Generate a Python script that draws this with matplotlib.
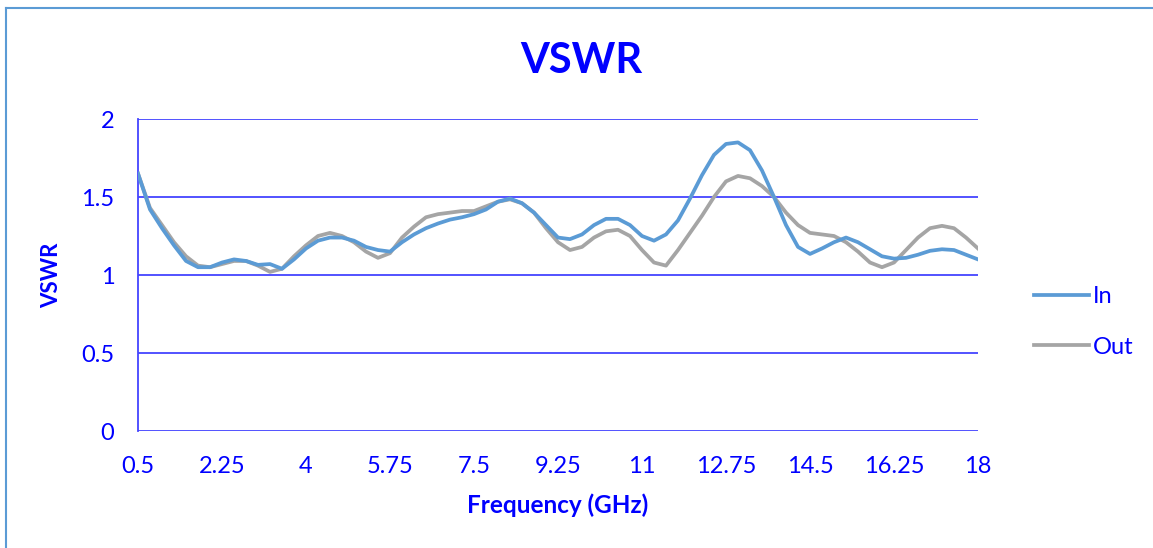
import matplotlib.pyplot as plt
from matplotlib.lines import Line2D

# frequency grid (GHz)
freq = [0.5, 0.75, 1.0, 1.25, 1.5, 1.75, 2.0, 2.25, 2.5, 2.75,
        3.0, 3.25, 3.5, 3.75, 4.0, 4.25, 4.5, 4.75, 5.0, 5.25,
        5.5, 5.75, 6.0, 6.25, 6.5, 6.75, 7.0, 7.25, 7.5, 7.75,
        8.0, 8.25, 8.5, 8.75, 9.0, 9.25, 9.5, 9.75, 10.0, 10.25,
        10.5, 10.75, 11.0, 11.25, 11.5, 11.75, 12.0, 12.25, 12.5, 12.75,
        13.0, 13.25, 13.5, 13.75, 14.0, 14.25, 14.5, 14.75, 15.0, 15.25,
        15.5, 15.75, 16.0, 16.25, 16.5, 16.75, 17.0, 17.25, 17.5, 17.75,
        18.0]

vswr_in = [1.65, 1.42, 1.30, 1.19, 1.09, 1.05, 1.05, 1.08, 1.10, 1.09,
           1.065, 1.07, 1.04, 1.10, 1.17, 1.22, 1.24, 1.24, 1.22, 1.18,
           1.16, 1.15, 1.21, 1.26, 1.30, 1.33, 1.355, 1.37, 1.39, 1.42,
           1.47, 1.49, 1.46, 1.40, 1.32, 1.24, 1.23, 1.26, 1.32, 1.36,
           1.36, 1.32, 1.25, 1.22, 1.26, 1.35, 1.49, 1.64, 1.77, 1.84,
           1.85, 1.80, 1.67, 1.50, 1.32, 1.18, 1.135, 1.17, 1.21, 1.24,
           1.21, 1.165, 1.12, 1.105, 1.11, 1.13, 1.155, 1.165, 1.16, 1.13,
           1.10]

vswr_out = [1.65, 1.43, 1.32, 1.21, 1.12, 1.06, 1.05, 1.07, 1.09, 1.09,
            1.06, 1.02, 1.04, 1.12, 1.19, 1.25, 1.27, 1.25, 1.21, 1.15,
            1.11, 1.14, 1.24, 1.31, 1.37, 1.39, 1.40, 1.41, 1.41, 1.44,
            1.47, 1.485, 1.46, 1.40, 1.30, 1.21, 1.16, 1.18, 1.24, 1.28,
            1.29, 1.25, 1.16, 1.08, 1.06, 1.16, 1.27, 1.38, 1.50, 1.60,
            1.635, 1.62, 1.57, 1.50, 1.40, 1.32, 1.27, 1.26, 1.25, 1.21,
            1.15, 1.08, 1.05, 1.08, 1.16, 1.24, 1.30, 1.315, 1.30, 1.24,
            1.17]

x_ticks = [0.5, 2.25, 4, 5.75, 7.5, 9.25, 11, 12.75, 14.5, 16.25, 18]
x_tick_labels = ['0.5', '2.25', '4', '5.75', '7.5', '9.25', '11', '12.75', '14.5', '16.25', '18']
y_ticks = [0, 0.5, 1, 1.5, 2]
y_tick_labels = ['0', '0.5', '1', '1.5', '2']

text_blue = '#0000ff'
grid_blue = '#4444ff'
in_color = '#5b9bd5'
out_color = '#a5a5a5'

plt.rcParams['font.family'] = ['Lato', 'DejaVu Sans']

fig = plt.figure(figsize=(11.53, 5.48), dpi=100)
ax = fig.add_axes([138 / 1153, 1 - 431 / 548, 840 / 1153, 312 / 548])

# chart area border (only top and left visible)
fig.add_artist(Line2D([6 / 1153, 1.0], [1 - 8 / 548, 1 - 8 / 548], transform=fig.transFigure,
                      color='#5b9bd5', lw=1.5))
fig.add_artist(Line2D([6 / 1153, 6 / 1153], [0.0, 1 - 8 / 548], transform=fig.transFigure,
                      color='#5b9bd5', lw=1.5))

# horizontal gridlines
for y in y_ticks:
    ax.axhline(y, color=grid_blue, lw=1.3, zorder=1)

ax.plot(freq, vswr_in, color=in_color, lw=2.7, label='In', zorder=3)
ax.plot(freq, vswr_out, color=out_color, lw=2.7, label='Out', zorder=2)

ax.set_xlim(0.5, 18)
ax.set_ylim(0, 2)
ax.set_xticks(x_ticks)
ax.set_xticklabels(x_tick_labels)
ax.set_yticks(y_ticks)
ax.set_yticklabels(y_tick_labels)
ax.tick_params(axis='both', length=0, labelsize=17, labelcolor=text_blue)
ax.tick_params(axis='x', pad=18)
ax.tick_params(axis='y', pad=17)

for side in ['top', 'right', 'bottom']:
    ax.spines[side].set_visible(False)
ax.spines['left'].set_color(grid_blue)
ax.spines['left'].set_linewidth(1.3)

ax.set_title('VSWR', fontsize=30, fontweight='bold', color=text_blue, pad=0,
             x=(581 - 138) / 840, y=1 + 46 / 312)
ax.set_xlabel('Frequency (GHz)', fontsize=17.5, fontweight='bold', color=text_blue, labelpad=12)
ax.set_ylabel('VSWR', fontsize=16, fontweight='bold', color=text_blue, labelpad=14)

fig.legend(loc='center left', bbox_to_anchor=(1013 / 1153, 1 - 322 / 548), frameon=False,
           fontsize=17, labelcolor=text_blue, handlelength=2.3, handletextpad=0.2,
           labelspacing=1.25)

plt.savefig('out.png', dpi=100)
